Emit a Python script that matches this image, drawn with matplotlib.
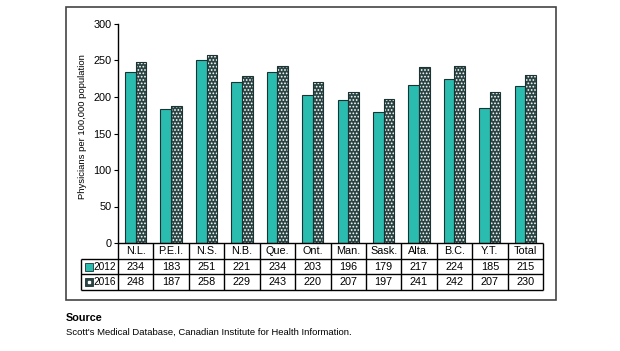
import matplotlib.pyplot as plt
from matplotlib.patches import Rectangle
import numpy as np

provinces = ['N.L.', 'P.E.I.', 'N.S.', 'N.B.', 'Que.', 'Ont.', 'Man.',
             'Sask.', 'Alta.', 'B.C.', 'Y.T.', 'Total']
rate_2012 = [234, 183, 251, 221, 234, 203, 196, 179, 217, 224, 185, 215]
rate_2016 = [248, 187, 258, 229, 243, 220, 207, 197, 241, 242, 207, 230]
years = ['2012', '2016']
y_ticks = [0, 50, 100, 150, 200, 250, 300]

TEAL = '#2bbcb0'
SLATE = '#2a4444'
EDGE = '#1c3333'
NARROW = ['Liberation Sans Narrow', 'Liberation Sans', 'DejaVu Sans']
ARIAL = ['Liberation Sans', 'DejaVu Sans']

W, H = 620, 351
plt.rcParams['hatch.linewidth'] = 0.8
fig = plt.figure(figsize=(W / 100, H / 100), dpi=100)


def box(x0, y0, x1, y1):
    # pixel box, origin top-left -> figure fraction rect
    return [x0 / W, 1 - y1 / H, (x1 - x0) / W, (y1 - y0) / H]


# outer frame
fig.patches.append(Rectangle((66 / W, 1 - 300 / H), 490 / W, 293 / H,
                             transform=fig.transFigure, fill=False,
                             edgecolor='#444444', lw=1.2))

# bars
ax = fig.add_axes(box(118, 24, 543, 243))
x = np.arange(len(provinces))
bw = 0.3
ax.bar(x - bw / 2, rate_2012, bw, color=TEAL, edgecolor=EDGE, linewidth=0.8)
ax.bar(x + bw / 2, rate_2016, bw, color=SLATE, edgecolor='white',
       hatch='.....', linewidth=0)
ax.bar(x + bw / 2, rate_2016, bw, fill=False, edgecolor=EDGE, linewidth=0.8)
ax.set_xlim(-0.5, len(provinces) - 0.5)
ax.set_ylim(0, 300)
ax.set_yticks(y_ticks)
ax.set_xticks([])
for s in ['top', 'right', 'bottom']:
    ax.spines[s].set_visible(False)
ax.spines['left'].set_linewidth(1.0)
ax.tick_params(axis='y', direction='out', length=3, width=0.8, pad=1.5,
               labelsize=7.8)
for lab in ax.get_yticklabels():
    lab.set_family(NARROW)
ax.set_ylabel('Physicians per 100,000 population', fontsize=6.8,
              family=NARROW)
ax.yaxis.set_label_coords((87 - 118) / 425, 0.53)

# data table under the bars
px = 425 / len(provinces)
lab_w = 37 / px
row_h = 47 / 3
tx = fig.add_axes(box(81, 243, 543, 290))
left = -0.5 - lab_w
right = len(provinces) - 0.5
tx.set_xlim(left, right)
tx.set_ylim(0, 3)
tx.axis('off')
lk = dict(color='black', lw=1.0, clip_on=False)
tx.hlines(3, -0.5, right, **lk)
tx.hlines([0, 1, 2], left, right, **lk)
tx.vlines(np.arange(len(provinces) + 1) - 0.5, 0, 3, **lk)
tx.vlines(left, 0, 2, **lk)

tk = dict(ha='center', va='center', fontsize=7.8, family=NARROW)
for i, name in enumerate(provinces):
    tx.text(i, 2.5, name, **tk)
    tx.text(i, 1.5, str(rate_2012[i]), **tk)
    tx.text(i, 0.5, str(rate_2016[i]), **tk)

sw = 8 / px
sh = 8 / row_h
for yc, yr, face in [(1.5, years[0], TEAL), (0.5, years[1], SLATE)]:
    sx = left + 3.5 / px
    tx.add_patch(Rectangle((sx, yc - sh / 2), sw, sh, facecolor=face,
                           edgecolor=EDGE, lw=0.6, clip_on=False))
    tx.text(sx + sw + 1 / px, yc, yr, ha='left', va='center',
            fontsize=7.3, family=NARROW)
tx.plot(left + 3.5 / px + sw / 2, 0.5, marker='s', ms=1.8, color='white',
        clip_on=False)

# source note
fig.text(66 / W, 1 - 321 / H, 'Source', fontsize=7.8, fontweight='bold',
         family=ARIAL, ha='left', va='baseline')
fig.text(66 / W, 1 - 335 / H,
         "Scott's Medical Database, Canadian Institute for Health Information.",
         fontsize=6.8, family=ARIAL, ha='left', va='baseline')

fig.savefig('out.png', dpi=100)
